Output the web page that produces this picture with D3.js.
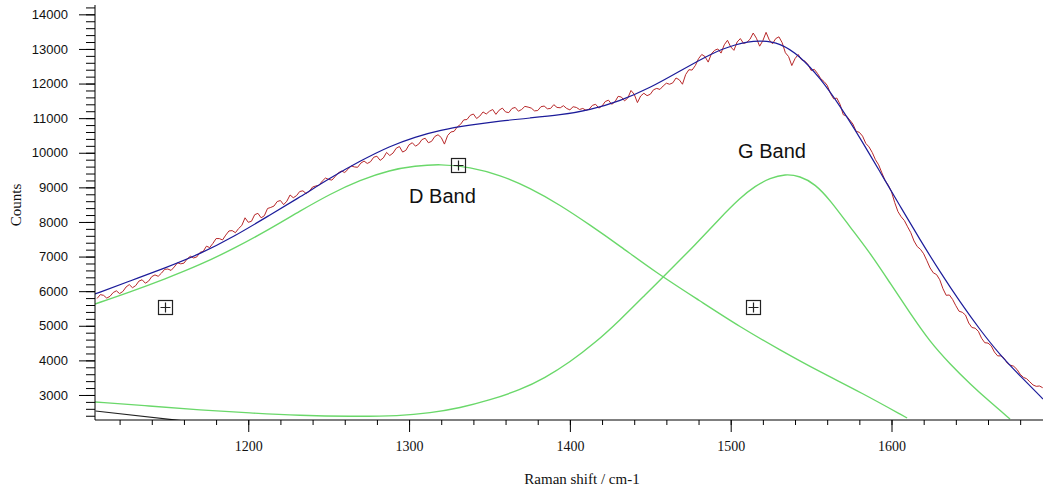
<!DOCTYPE html>
<html>
<head>
<meta charset="utf-8">
<script src="https://cdn.jsdelivr.net/npm/d3@7"></script>
<style>
  body { margin: 0; background: #fff; }
  svg { display: block; }
</style>
</head>
<body>
<div id="chart"></div>
<script>
// measured spectrum (Raman shift, counts)
const rawShift = [
  1106,1108,1110,1112,1114,1116,1118,1120,1122,1124,
  1126,1128,1130,1132,1134,1136,1138,1140,1142,1144,
  1146,1148,1150,1152,1154,1156,1158,1160,1162,1164,
  1166,1168,1170,1172,1174,1176,1178,1180,1182,1184,
  1186,1188,1190,1192,1194,1196,1198,1200,1202,1204,
  1206,1208,1210,1212,1214,1216,1218,1220,1222,1224,
  1226,1228,1230,1232,1234,1236,1238,1240,1242,1244,
  1246,1248,1250,1252,1254,1256,1258,1260,1262,1264,
  1266,1268,1270,1272,1274,1276,1278,1280,1282,1284,
  1286,1288,1290,1292,1294,1296,1298,1300,1302,1304,
  1306,1308,1310,1312,1314,1316,1318,1320,1322,1324,
  1326,1328,1330,1332,1334,1336,1338,1340,1342,1344,
  1346,1348,1350,1352,1354,1356,1358,1360,1362,1364,
  1366,1368,1370,1372,1374,1376,1378,1380,1382,1384,
  1386,1388,1390,1392,1394,1396,1398,1400,1402,1404,
  1406,1408,1410,1412,1414,1416,1418,1420,1422,1424,
  1426,1428,1430,1432,1434,1436,1438,1440,1442,1444,
  1446,1448,1450,1452,1454,1456,1458,1460,1462,1464,
  1466,1468,1470,1472,1474,1476,1478,1480,1482,1484,
  1486,1488,1490,1492,1494,1496,1498,1500,1502,1504,
  1506,1508,1510,1512,1514,1516,1518,1520,1522,1524,
  1526,1528,1530,1532,1534,1536,1538,1540,1542,1544,
  1546,1548,1550,1552,1554,1556,1558,1560,1562,1564,
  1566,1568,1570,1572,1574,1576,1578,1580,1582,1584,
  1586,1588,1590,1592,1594,1596,1598,1600,1602,1604,
  1606,1608,1610,1612,1614,1616,1618,1620,1622,1624,
  1626,1628,1630,1632,1634,1636,1638,1640,1642,1644,
  1646,1648,1650,1652,1654,1656,1658,1660,1662,1664,
  1666,1668,1670,1672,1674,1676,1678,1680,1682,1684,
  1686,1688,1690,1692,1694];
const rawCounts = [
  5790,5900,5880,5800,5850,5960,6010,5930,5990,6120,
  6190,6100,6160,6290,6330,6230,6290,6420,6470,6430,
  6520,6630,6640,6600,6700,6820,6790,6810,6930,7010,
  6960,6990,7120,7150,7300,7260,7380,7520,7520,7480,
  7620,7740,7750,7690,7810,7900,8120,7990,8020,8210,
  8250,8120,8180,8390,8420,8460,8590,8620,8500,8600,
  8780,8700,8760,8880,8900,8820,8890,9010,9040,9060,
  9180,9270,9230,9210,9310,9420,9470,9430,9520,9620,
  9590,9580,9700,9760,9690,9740,9870,9900,9780,9850,
  10010,9920,9990,10130,10180,10020,10070,10230,10290,10190,
  10250,10380,10420,10290,10330,10470,10520,10440,10250,10500,
  10600,10620,10750,10820,10950,10960,11080,11120,10990,11060,
  11180,11120,11200,11250,11110,11230,11290,11180,11160,11280,
  11310,11200,11250,11340,11320,11290,11210,11220,11330,11350,
  11270,11280,11390,11310,11300,11360,11280,11240,11330,11310,
  11250,11280,11230,11260,11370,11400,11290,11350,11480,11520,
  11400,11470,11630,11610,11500,11580,11800,11690,11450,11640,
  11720,11650,11690,11820,11860,11830,11930,12010,11980,12020,
  12160,12110,11980,12260,12400,12390,12520,12720,12840,12780,
  12620,12860,12960,13000,12880,13120,13250,13060,12960,13200,
  13300,13160,13190,13280,13460,13310,13080,13240,13480,13260,
  13150,13300,13350,13180,12890,12780,12520,12720,12840,12690,
  12650,12560,12380,12410,12290,12140,12060,11950,11720,11560,
  11580,11400,11100,11060,10950,10830,10620,10590,10480,10270,
  10170,10010,9800,9650,9420,9200,9060,8870,8560,8300,
  8150,8040,7860,7690,7450,7290,7210,7080,6880,6670,
  6530,6480,6330,6070,5880,5890,5760,5580,5420,5390,
  5310,5080,4950,4930,4840,4640,4510,4500,4420,4240,
  4130,4130,4060,3920,3860,3830,3740,3600,3510,3470,
  3380,3290,3250,3260,3210];

// fitted sum
const fitShift = [1104.7,1126.5,1148.2,1170,1191.8,1213.5,1232.2,1250.9,1269.5,1288.2,1303.7,1319.3,1337.9,1356.6,1375.2,1393.9,1412.5,1431.2,1449.8,1468.5,1487.2,1502.7,1518.3,1530.7,1543.1,1555.6,1568,1580.5,1592.9,1605.3,1617.8,1630.2,1642.6,1655.1,1667.5,1680,1694.2];
const fitCounts = [5918,6294,6670,7074,7595,8202,8722,9271,9762,10196,10456,10658,10803,10918,11005,11092,11236,11496,11872,12363,12854,13143,13259,13172,12797,12161,11352,10427,9444,8462,7479,6554,5687,4878,4156,3549,2884];

// D band component
const dShift = [1104.7,1126.5,1148.2,1170,1191.8,1213.5,1232.2,1250.9,1269.5,1288.2,1303.7,1319.3,1337.9,1356.6,1375.2,1393.9,1412.5,1431.2,1453,1481,1505.8,1530.7,1555.6,1580.5,1609.7];
const dCounts = [5629,5976,6352,6757,7248,7797,8317,8808,9213,9502,9618,9675,9589,9358,8982,8491,7913,7306,6554,5716,4965,4300,3664,3086,2335];

// G band component
const gShift = [1104.7,1138.9,1170,1201.1,1232.2,1263.3,1294.4,1313,1331.7,1350.3,1369,1384.5,1400.1,1415.6,1431.2,1446.7,1462.3,1477.8,1493.4,1505.8,1515.2,1524.5,1533.8,1543.1,1552.5,1561.8,1574.2,1586.7,1599.1,1611.5,1624,1636.4,1648.9,1661.3,1673.7];
const gCounts = [2797,2682,2566,2479,2407,2378,2393,2479,2624,2855,3144,3491,3953,4502,5167,5890,6612,7335,8115,8693,9040,9271,9386,9329,9097,8635,7855,7103,6236,5369,4531,3895,3317,2797,2306];

// baseline
const baseShift = [1105, 1160];
const baseCounts = [2537, 2250];

// peak markers and labels
const markerShift = [1148, 1330.5, 1514];
const markerCounts = [5543, 9647, 5543];
const bandLabels = ["D Band", "G Band"];
const bandLabelShift = [1300, 1504.6];
const bandLabelCounts = [8549, 9849];

const xMajor = [1200, 1300, 1400, 1500, 1600];
const yMajor = [3000, 4000, 5000, 6000, 7000, 8000, 9000, 10000, 11000, 12000, 13000, 14000];

const width = 1043, height = 490;
const margin = { left: 95, right: 0, top: 5, bottom: 70 };

const svg = d3.select("#chart").append("svg")
    .attr("width", width)
    .attr("height", height);

const x = d3.scaleLinear()
    .domain([1104.7, 1694.2])
    .range([margin.left, width - margin.right]);

const y = d3.scaleLinear()
    .domain([2277, 14270])
    .range([height - margin.bottom, margin.top]);

svg.append("clipPath").attr("id", "plot")
  .append("rect")
    .attr("x", margin.left)
    .attr("y", margin.top)
    .attr("width", width - margin.left - margin.right)
    .attr("height", height - margin.top - margin.bottom);

const zip = (xs, ys) => xs.map((v, i) => [v, ys[i]]);

const smooth = d3.line().x(d => x(d[0])).y(d => y(d[1])).curve(d3.curveBasis);
const raw = d3.line().x(d => x(d[0])).y(d => y(d[1]));

const g = svg.append("g").attr("clip-path", "url(#plot)");

g.append("path")
    .attr("d", raw(zip(baseShift, baseCounts)))
    .attr("fill", "none")
    .attr("stroke", "#222")
    .attr("stroke-width", 1.2);

[[dShift, dCounts], [gShift, gCounts]].forEach(([xs, ys]) => {
  g.append("path")
      .attr("d", smooth(zip(xs, ys)))
      .attr("fill", "none")
      .attr("stroke", "#6ad86a")
      .attr("stroke-width", 1.4);
});

g.append("path")
    .attr("d", raw(zip(rawShift, rawCounts)))
    .attr("fill", "none")
    .attr("stroke", "#b8282a")
    .attr("stroke-width", 1);

g.append("path")
    .attr("d", smooth(zip(fitShift, fitCounts)))
    .attr("fill", "none")
    .attr("stroke", "#1c1c9a")
    .attr("stroke-width", 1.2);

// axes
const xAxis = svg.append("g")
    .attr("transform", `translate(0,${y.range()[0]})`);
xAxis.append("g")
    .call(d3.axisBottom(x).tickValues(d3.range(1120, 1694, 20)).tickSize(5).tickFormat(""));
xAxis.append("g")
    .call(d3.axisBottom(x).tickValues(xMajor).tickSize(12).tickPadding(9).tickFormat(d3.format("d")))
    .call(a => a.selectAll("text")
        .attr("font-family", "'Liberation Serif', 'Times New Roman', serif")
        .attr("font-size", 14)
        .attr("fill", "#111"));

const yAxis = svg.append("g")
    .attr("transform", `translate(${margin.left},0)`);
yAxis.append("g")
    .call(d3.axisLeft(y).tickValues(d3.range(2400, 14201, 200)).tickSize(9).tickFormat(""));
yAxis.append("g")
    .call(d3.axisLeft(y).tickValues(yMajor).tickSize(16).tickPadding(11).tickFormat(d3.format("d")))
    .call(a => a.selectAll("text")
        .attr("font-family", "'Liberation Sans', Arial, sans-serif")
        .attr("font-size", 13)
        .attr("fill", "#111"));

svg.selectAll(".domain").remove();
svg.selectAll(".tick line").attr("stroke", "#000");

xAxis.append("line")
    .attr("x1", margin.left).attr("x2", width)
    .attr("stroke", "#000");
yAxis.append("line")
    .attr("y1", margin.top).attr("y2", y.range()[0])
    .attr("stroke", "#000");

svg.append("text")
    .attr("x", 582)
    .attr("y", 484)
    .attr("text-anchor", "middle")
    .attr("font-family", "'Liberation Serif', 'Times New Roman', serif")
    .attr("font-size", 15)
    .attr("fill", "#111")
    .text("Raman shift / cm-1");

svg.append("text")
    .attr("transform", "translate(21,205) rotate(-90)")
    .attr("text-anchor", "middle")
    .attr("font-family", "'Liberation Serif', 'Times New Roman', serif")
    .attr("font-size", 15)
    .attr("fill", "#111")
    .text("Counts");

// markers
const markers = svg.append("g").selectAll("g")
    .data(zip(markerShift, markerCounts))
    .join("g")
    .attr("transform", d => `translate(${Math.round(x(d[0])) + 0.5},${Math.round(y(d[1])) + 0.5})`);
markers.append("rect")
    .attr("x", -7).attr("y", -7).attr("width", 14).attr("height", 14)
    .attr("fill", "none").attr("stroke", "#222").attr("stroke-width", 1.2);
markers.append("path")
    .attr("d", "M-5,0H5M0,-5V5")
    .attr("stroke", "#222").attr("stroke-width", 1.2);

svg.append("g").selectAll("text")
    .data(bandLabels)
    .join("text")
    .attr("x", (d, i) => x(bandLabelShift[i]))
    .attr("y", (d, i) => y(bandLabelCounts[i]))
    .attr("font-family", "'Liberation Sans', Arial, sans-serif")
    .attr("font-size", 20)
    .attr("fill", "#111")
    .text(d => d);
</script>
</body>
</html>
